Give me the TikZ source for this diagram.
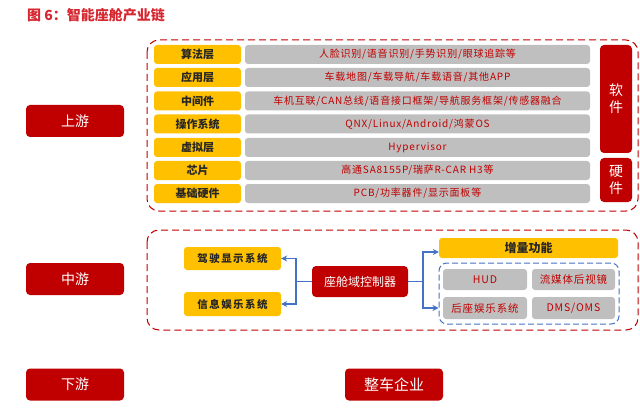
\documentclass[tikz,border=0pt]{standalone}
\usepackage{fontspec}
\setmainfont{Noto Sans CJK SC}
\newfontfamily\spacedfont[LetterSpace=8]{Noto Sans CJK SC}
\newfontfamily\widefont[LetterSpace=14]{Noto Sans CJK SC}
\usetikzlibrary{arrows.meta}

\definecolor{darkred}{RGB}{192,0,0}
\definecolor{titlered}{RGB}{214,38,48}
\definecolor{amber}{RGB}{255,192,0}
\definecolor{lightgrey}{RGB}{191,191,191}
\definecolor{linkblue}{RGB}{68,114,196}

\tikzset{
  stage/.style={fill=darkred, rounded corners=4pt, text=white, font=\fontsize{14}{16}\selectfont,
    minimum width=98, minimum height=32, inner sep=0},
  layer/.style={fill=amber, rounded corners=3pt, text=black!85, font=\fontsize{11}{13}\selectfont\bfseries,
    minimum width=87, minimum height=19, inner sep=0},
  detail/.style={fill=lightgrey, rounded corners=3pt, text=darkred, font=\spacedfont\fontsize{10}{12}\selectfont,
    minimum width=345, minimum height=19, inner sep=0},
  kind/.style={fill=darkred, rounded corners=4pt, text=white, font=\fontsize{14}{17}\selectfont,
    minimum width=32, inner sep=0, align=center},
  group/.style={draw=darkred, dash pattern=on 7pt off 4pt, line width=1pt, rounded corners=12pt},
  flow/.style={draw=linkblue, line width=1.5pt, -{Stealth[length=6pt,width=6pt]}}
}

\begin{document}
\begin{tikzpicture}[x=1pt, y=-1pt]
  \useasboundingbox (0,0) rectangle (640,417);

  % title
  \node[anchor=west, text=titlered, font=\fontsize{14}{16}\selectfont\bfseries, inner sep=0] (title) at (27,15) {图 6：智能座舱产业链};

  % stages
  \node[stage] (up) at (75,121) {上游};
  \node[stage] (mid) at (75,279) {中游};
  \node[stage] (down) at (75,384.5) {下游};

  % upstream
  \draw[group] (147,40) rectangle (638,211);

  \node[layer] (algo) at (197.5,54.5) {算法层};
  \node[layer] (app) at (197.5,77.5) {应用层};
  \node[layer] (middle) at (197.5,101) {中间件};
  \node[layer] (os) at (197.5,124) {操作系统};
  \node[layer] (virt) at (197.5,147.5) {虚拟层};
  \node[layer] (chip) at (197.5,170.5) {芯片};
  \node[layer] (base) at (197.5,193.5) {基础硬件};

  \node[detail] (algo-d) at (417.5,54.5) {人脸识别/语音识别/手势识别/眼球追踪等};
  \node[detail] (app-d) at (417.5,77.5) {车载地图/车载导航/车载语音/其他APP};
  \node[detail] (middle-d) at (417.5,101) {车机互联/CAN总线/语音接口框架/导航服务框架/传感器融合};
  \node[detail] (os-d) at (417.5,124) {QNX/Linux/Android/鸿蒙OS};
  \node[detail] (virt-d) at (417.5,147.5) {Hypervisor};
  \node[detail] (chip-d) at (417.5,170.5) {高通SA8155P/瑞萨R-CAR H3等};
  \node[detail] (base-d) at (417.5,193.5) {PCB/功率器件/显示面板等};

  \node[kind, minimum height=108] (soft) at (616,99) {软\\件};
  \node[kind, minimum height=44] (hard) at (616,180) {硬\\件};

  % midstream
  \draw[group] (147,230) rectangle (638,330);

  \node[layer, font=\widefont\fontsize{10.5}{13}\selectfont\bfseries, minimum width=97, minimum height=23] (drive) at (232.5,258.5) {驾驶显示系统};
  \node[layer, font=\widefont\fontsize{10.5}{13}\selectfont\bfseries, minimum width=97, minimum height=24] (info) at (232.5,304) {信息娱乐系统};
  \node[stage, font=\fontsize{12}{14}\selectfont, minimum width=96, minimum height=31] (ctrl) at (360,281.5) {座舱域控制器};
  \node[layer, font=\fontsize{12}{14}\selectfont\bfseries, minimum width=179, minimum height=20] (extra) at (528.5,248) {增量功能};
  \node[draw=linkblue, dash pattern=on 6pt off 3pt, line width=1pt, rounded corners=8pt, minimum width=180, minimum height=61, inner sep=0] (extras) at (529,293.5) {};

  \node[detail, font=\spacedfont\fontsize{10.5}{12}\selectfont, minimum width=84, minimum height=21] (hud) at (485,279.5) {HUD};
  \node[detail, font=\spacedfont\fontsize{10.5}{12}\selectfont, minimum width=83, minimum height=21] (mirror) at (573.5,279.5) {流媒体后视镜};
  \node[detail, font=\spacedfont\fontsize{10.5}{12}\selectfont, minimum width=84, minimum height=22] (rear) at (485,308) {后座娱乐系统};
  \node[detail, font=\spacedfont\fontsize{10.5}{12}\selectfont, minimum width=83, minimum height=22] (dms) at (573.5,308) {DMS/OMS};

  \draw[flow] (ctrl.west) -- ++(-16,0) |- (drive.east);
  \draw[flow] (ctrl.west) -- ++(-16,0) |- (info.east);
  \draw[flow] (ctrl.east) -- ++(15,0) |- ([yshift=-4pt]extra.west);
  \draw[flow] (ctrl.east) -- ++(15,0) |- (extras.west |- rear);

  % downstream
  \node[stage, font=\fontsize{15}{17}\selectfont] (oem) at (394,384.5) {整车企业};
\end{tikzpicture}
\end{document}
